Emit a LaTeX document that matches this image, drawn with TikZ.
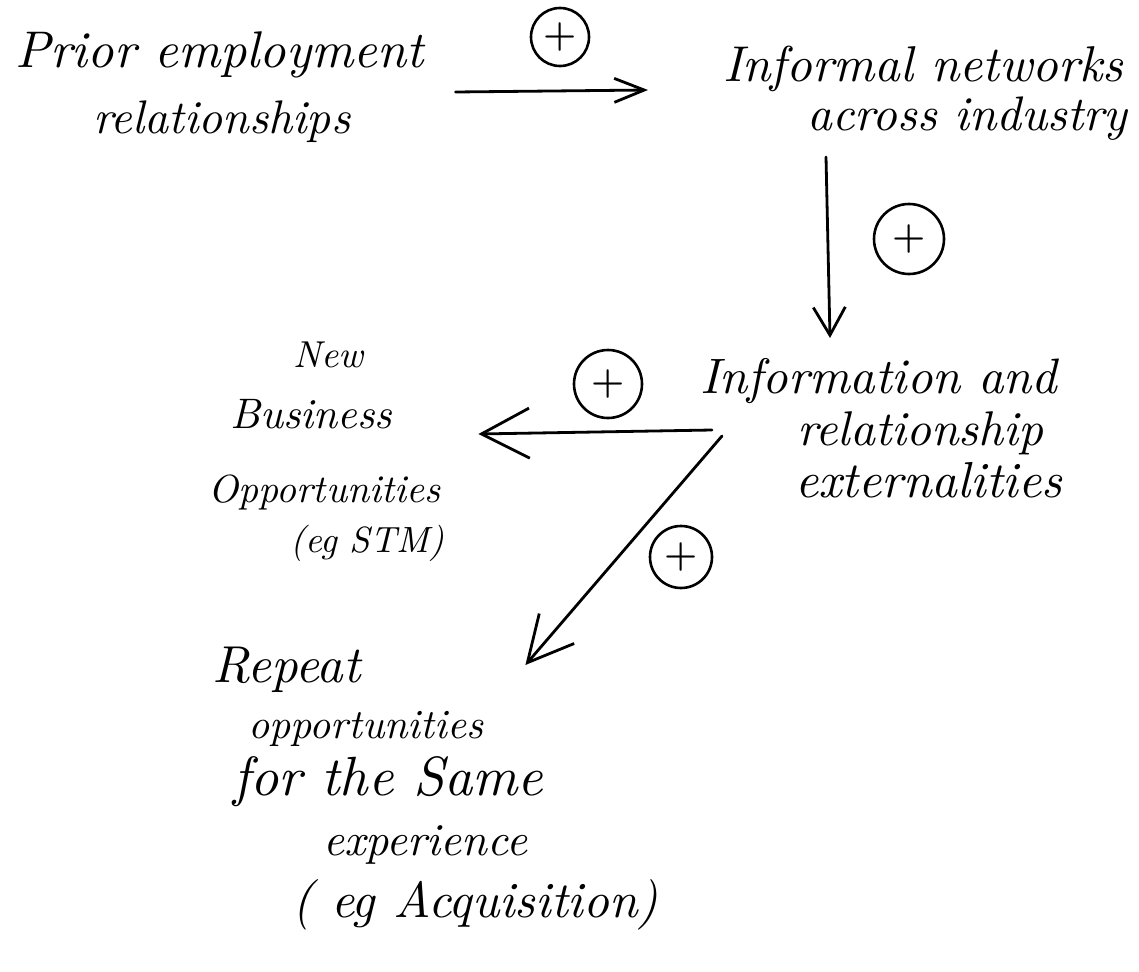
\documentclass[tikz,border=0pt]{standalone}
\usepackage{graphicx}
\usetikzlibrary{arrows.meta}
% one handwritten-style line, stretched to a given width
\newcommand{\handline}[2]{\resizebox{#1pt}{!}{\itshape #2}}
\begin{document}
\begin{tikzpicture}[x=1pt,y=-1pt,
  txt/.style={anchor=base west, inner sep=0pt},
  pluscircle/.style={draw, circle, line width=2.6pt, inner sep=0pt,
    minimum size=#1, font=\fontsize{38}{38}\selectfont\bfseries},
  link/.style={line width=2.8pt, line cap=round, line join=round}]
\useasboundingbox (0,0) rectangle (1139,971);

% Prior employment relationships
\node[txt] (p1) at (15,68)  {\handline{408}{Prior employment}};
\node[txt] (p2) at (93,133) {\handline{257}{relationships}};

% Informal networks across industry
\node[txt] (i1) at (723,82)  {\handline{400}{Informal networks}};
\node[txt] (i2) at (807,130) {\handline{320}{across industry}};

% Information and relationship externalities
\node[txt] (f1) at (700,393) {\handline{357}{Information and}};
\node[txt] (f2) at (797,445) {\handline{246}{relationship}};
\node[txt] (f3) at (795,497) {\handline{267}{externalities}};

% New Business Opportunities (eg STM)
\node[txt] (n1) at (293,367) {\handline{70}{New}};
\node[txt] (n2) at (230,428) {\handline{162}{Business}};
\node[txt] (n3) at (208,502) {\handline{232}{Opportunities}};
\node[txt] (n4) at (290,552) {\handline{154}{(eg STM)}};

% Repeat opportunities for the same experience
\node[txt] (r1) at (212,682) {\handline{148}{Repeat}};
\node[txt] (r2) at (248,738) {\handline{235}{opportunities}};
\node[txt] (r3) at (233,795) {\handline{310}{for the Same}};
\node[txt] (r4) at (323,855) {\handline{204}{experience}};
\node[txt] (r5) at (292,917) {\handline{366}{( eg Acquisition)}};

% polarity marks
\node[pluscircle=58pt] (c1) at (560,37)  {+};
\node[pluscircle=70pt] (c2) at (909,239) {+};
\node[pluscircle=68pt] (c3) at (608,384) {+};
\node[pluscircle=62pt] (c4) at (681,557) {+};

% causal links
\draw[link, -{Straight Barb[length=30pt, width=24pt]}]
  ([shift={(32pt,-24pt)}]p1.base east) -- ([shift={(-75pt,-8pt)}]i1.base west);
\draw[link, -{Straight Barb[length=28pt, width=32pt]}]
  ([shift={(19pt,-27pt)}]i2.base west) -- ([shift={(130pt,55pt)}]f1.base west);
\draw[link, -{Straight Barb[length=48pt, width=50pt]}]
  ([shift={(-85pt,15pt)}]f2.base west) -- ([shift={(86pt,-6pt)}]n2.base east);
\draw[link, -{Straight Barb[length=45pt, width=46pt]}]
  ([shift={(-75pt,9pt)}]f2.base west) -- ([shift={(165pt,17pt)}]r1.base east);
\end{tikzpicture}
\end{document}
